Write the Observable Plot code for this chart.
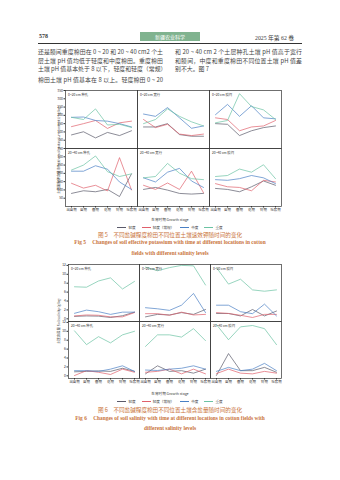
<!DOCTYPE html>
<html><head><meta charset="utf-8">
<script src="https://cdn.jsdelivr.net/npm/d3@7"></script>
<script src="https://cdn.jsdelivr.net/npm/@observablehq/plot@0.6"></script>
<style>
body{margin:0;background:#fff;width:340px;height:480px;position:relative;overflow:hidden;font-family:"Noto Sans CJK SC",sans-serif;color:#3a3a3a;}
.a{position:absolute;white-space:nowrap;}
.ln{position:absolute;font-size:5.9px;line-height:8px;height:8px;text-align:justify;text-align-last:justify;white-space:nowrap;color:#444;}
.cap{position:absolute;left:0;width:340px;text-align:center;color:#c9733a;white-space:nowrap;}
.leg{position:absolute;left:0;width:340px;text-align:center;font-size:3.6px;white-space:nowrap;}
.leg span{margin:0 3px;}
.leg i{display:inline-block;width:9px;height:0;border-top:0.8px solid;vertical-align:middle;margin-right:2px;}
.ytitle{position:absolute;font-size:3.4px;white-space:nowrap;transform:translate(-50%,-50%) rotate(-90deg);}
.xtitle{position:absolute;left:0;width:340px;text-align:center;font-size:3.6px;}
</style></head><body>
<div class="a" style="left:39px;top:32.5px;font:bold 6px 'Liberation Serif';">578</div>
<div class="a" style="left:140px;top:31.5px;width:60px;height:9.5px;background:#80b38f;color:#fff;font-size:5px;line-height:9.5px;text-align:center;">新疆农业科学</div>
<div class="a" style="left:255px;top:32.5px;font-size:5.8px;font-family:'Liberation Serif','Noto Sans CJK SC';">2025 年第 62 卷</div>
<div class="a" style="left:38px;top:42.5px;width:264px;height:1.2px;background:#333;"></div>

<div class="ln" style="left:38px;top:48px;width:125px;">还是膜间重度棉田在 0 ~ 20 和 20 ~ 40 cm2 个土</div>
<div class="ln" style="left:38px;top:56.5px;width:125px;">层土壤 pH 值均低于轻度和中度棉田。重度棉田</div>
<div class="ln" style="left:38px;top:65px;width:125px;">土壤 pH 值基本处于 8 以下，轻度和轻度（常规）</div>
<div class="ln" style="left:38px;top:75.5px;width:125px;">棉田土壤 pH 值基本在 8 以上。轻度棉田 0 ~ 20</div>
<div class="ln" style="left:175px;top:48px;width:127px;">和 20 ~ 40 cm 2 个土层种孔土壤 pH 值高于宽行</div>
<div class="ln" style="left:175px;top:56.5px;width:127px;">和膜间，中度和重度棉田不同位置土壤 pH 值差</div>
<div class="a" style="left:175px;top:65px;font-size:5.9px;line-height:8px;color:#444;">别不大。图 7</div>

<div id="fig5" class="a" style="left:0;top:85px;"></div>
<div class="ytitle" style="left:58px;top:150px;">土壤速效钾含量 Effective soil potassium content (mg/kg)</div>
<div class="xtitle" style="top:216.5px;">生育时期 Growth stage</div>
<div class="leg" id="leg5" style="top:224.5px;"></div>
<div class="cap" style="top:231px;font-size:5.6px;">图 5　不同盐碱程度棉田不同位置土壤速效钾随时间的变化</div>
<div class="cap" style="top:239px;font:bold 5.4px 'Liberation Serif';">Fig 5　 Changes of soil effective potassium with time at different locations in cotton</div>
<div class="cap" style="top:250px;font:bold 5.4px 'Liberation Serif';">fields with different salinity levels</div>

<div id="fig6" class="a" style="left:0;top:258px;"></div>
<div class="ytitle" style="left:58px;top:321px;">土壤含盐量 Soil salinity (g/kg)</div>
<div class="xtitle" style="top:390.5px;">生育时期 Growth stage</div>
<div class="leg" id="leg6" style="top:398.5px;"></div>
<div class="cap" style="top:405.5px;font-size:5.6px;">图 6　不同盐碱程度棉田不同位置土壤含盐量随时间的变化</div>
<div class="cap" style="top:415px;font:bold 5.4px 'Liberation Serif';">Fig 6　 Changes of soil salinity with time at different locations in cotton fields with</div>
<div class="cap" style="top:424.5px;font:bold 5.4px 'Liberation Serif';">different salinity levels</div>

<script>
// categories
const stages = ["出苗期","苗期","蕾期","花期","铃期","吐絮期"];
const positions = ["种孔","宽行","膜间"];
const depths = ["0~20 cm","20~40 cm"];
const levels = ["轻度","轻度（常规）","中度","重度"];
const colors = ["#5a5a6a","#e0606c","#4a80c4","#6cc3a3"];
// panel order: 0~20 种孔, 0~20 宽行, 0~20 膜间, 20~40 种孔, 20~40 宽行, 20~40 膜间

// Fig 5: soil effective potassium (mg/kg)
const kLight = [
  82,101,64,97,78,107,
  130,130,150,84,74,74,
  150,146,78,107,126,136,
  79,95,89,103,60,197,
  103,115,99,79,75,79,
  109,103,89,119,154,128];
const kLightConv = [
  132,150,169,121,155,165,
  175,126,146,87,78,87,
  185,175,107,130,136,169,
  140,111,128,94,295,100,
  128,103,142,103,213,83,
  138,119,115,95,158,148];
const kMid = [
  188,190,169,165,150,130,
  208,194,247,185,122,136,
  204,266,194,258,185,179,
  213,213,246,225,148,103,
  173,148,207,230,154,115,
  162,158,168,187,173,138];
const kHeavy = [
  188,175,239,142,146,127,
  150,175,239,194,161,136,
  155,169,331,253,233,175,
  220,250,305,210,181,197,
  173,181,260,201,168,162,
  181,187,226,207,252,168];

// Fig 6: soil salinity (g/kg)
const sLight = [
  0.55,0.65,0.6,0.3,0.7,1.5,
  0.44,1.0,0.87,1.4,1.0,2.1,
  1.2,1.2,0.65,2.1,0.65,1.75,
  0.9,1.0,1.1,1.0,1.7,1.0,
  0.44,2.25,1.0,1.16,0.6,1.5,
  0.1,5.0,1.16,1.16,1.9,0.8];
const sLightConv = [
  0.65,0.87,0.8,0.44,0.44,1.4,
  1.16,1.16,0.8,1.5,0.87,1.0,
  1.4,1.2,0.8,0.3,1.0,1.0,
  0.07,1.16,0.8,0.3,1.5,0.8,
  0.8,1.0,1.5,0.44,1.5,0.44,
  0.5,1.5,0.6,0.44,1.0,0.6];
const sMid = [
  1.24,1.96,1.6,1.0,1.5,1.5,
  2.5,2.25,1.9,3.06,5.7,1.4,
  3.06,3.06,1.6,1.16,3.3,0.65,
  1.16,1.16,1.0,1.5,2.25,1.0,
  1.3,1.2,1.5,1.7,2.25,1.5,
  1.0,1.9,1.16,1.5,2.8,1.16];
const sHeavy = [
  7.2,7.1,8.5,9.2,6.7,8.4,
  11.6,10.8,11.5,12,11.9,7.6,
  11.5,7.8,8.9,6.5,6.2,6.5,
  10.1,7.0,8.8,7.4,9.2,10.0,
  6.6,9.2,9.2,8.7,10.6,7.9,
  11.5,8.1,11.0,11.3,10.6,7.0];

function rows(series) {
  const out = [];
  series.forEach((arr, li) => {
    arr.forEach((v, k) => {
      const p = Math.floor(k / 6), s = k % 6;
      out.push({level: levels[li], pos: positions[p % 3], depth: depths[Math.floor(p / 3)], stage: stages[s], value: v});
    });
  });
  return out;
}
const panels = [];
depths.forEach(d => positions.forEach(p => panels.push({depth: d, pos: p, label: d + " " + p})));

function fig(series, o) {
  return Plot.plot({
    width: 340,
    height: o.height,
    marginLeft: o.ml, marginRight: 59, marginTop: o.mt, marginBottom: o.mb,
    style: {fontSize: "3.4px", fontFamily: "'Noto Sans CJK SC', sans-serif", background: "transparent", color: "#333"},
    fx: {domain: positions, padding: 0, axis: null},
    fy: {domain: depths, padding: 0, axis: null},
    x: {type: "point", domain: stages, padding: 0.45, label: null, tickSize: 1.5, tickPadding: 1},
    y: {domain: o.ydomain, ticks: o.yticks, label: null, tickSize: 1.5, tickPadding: 1},
    color: {domain: levels, range: colors},
    marks: [
      Plot.line(rows(series), {x: "stage", y: "value", z: "level", stroke: "level", fx: "pos", fy: "depth", strokeWidth: 0.7}),
      Plot.frame({stroke: "#333", strokeWidth: 0.7}),
      Plot.text(panels, {fx: "pos", fy: "depth", text: "label", frameAnchor: "top-left", dx: 2.5, dy: 3, fontSize: 3.3, textAnchor: "start"})
    ]
  });
}

document.getElementById("fig5").appendChild(fig([kLight, kLightConv, kMid, kHeavy],
  {height: 130, ml: 65, mt: 4.5, mb: 8, ydomain: [0, 350], yticks: [50,100,150,200,250,300,350]}));
document.getElementById("fig6").appendChild(fig([sLight, sLightConv, sMid, sHeavy],
  {height: 128.5, ml: 68, mt: 5, mb: 8.2, ydomain: [-0.6, 12.2], yticks: [0,2,4,6,8,10,12]}));

function legend(id) {
  const el = document.getElementById(id);
  levels.forEach((l, i) => {
    const s = document.createElement("span");
    s.innerHTML = `<i style="border-color:${colors[i]}"></i>${l}`;
    el.appendChild(s);
  });
}
legend("leg5"); legend("leg6");
</script>
</body></html>
